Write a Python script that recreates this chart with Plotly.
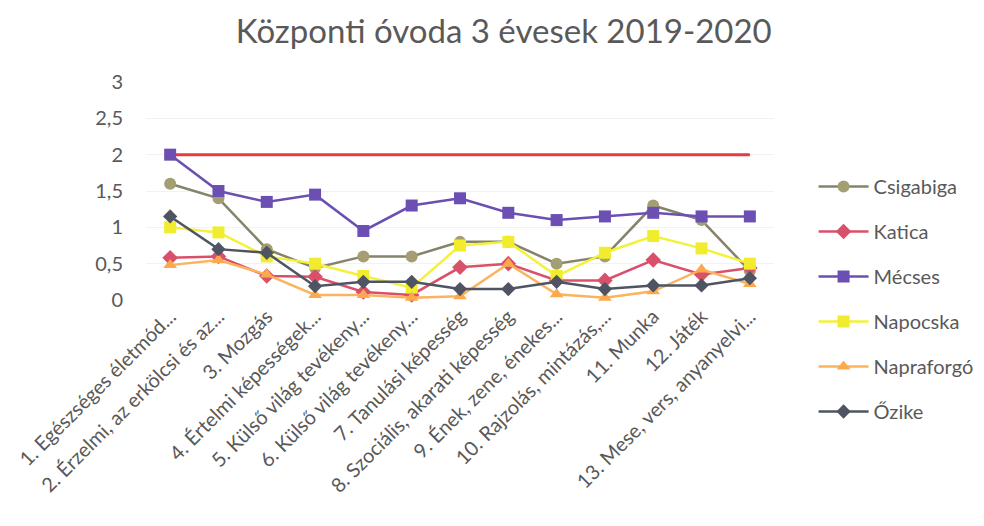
import plotly.graph_objects as go

categories = [
    "1. Egészséges életmód...",
    "2. Érzelmi, az erkölcsi és az...",
    "3. Mozgás",
    "4. Értelmi képességek...",
    "5. Külső világ tevékeny...",
    "6. Külső világ tevékeny...",
    "7. Tanulási képesség",
    "8. Szociális, akarati képesség",
    "9. Ének, zene, énekes...",
    "10. Rajzolás, mintázás,...",
    "11. Munka",
    "12. Játék",
    "13. Mese, vers, anyanyelvi...",
]
cat_ids = list(range(len(categories)))

target = [2, 2, 2, 2, 2, 2, 2, 2, 2, 2, 2, 2, 2]
csigabiga = [1.6, 1.4, 0.7, 0.44, 0.6, 0.6, 0.8, 0.8, 0.5, 0.6, 1.3, 1.1, 0.4]
katica = [0.58, 0.6, 0.33, 0.32, 0.11, 0.07, 0.45, 0.5, 0.27, 0.27, 0.55, 0.35, 0.44]
mecses = [2.0, 1.5, 1.35, 1.45, 0.95, 1.3, 1.4, 1.2, 1.1, 1.15, 1.2, 1.15, 1.15]
napocska = [1.0, 0.93, 0.6, 0.5, 0.33, 0.17, 0.75, 0.8, 0.33, 0.65, 0.88, 0.71, 0.5]
napraforgo = [0.48, 0.55, 0.35, 0.07, 0.07, 0.03, 0.05, 0.5, 0.08, 0.03, 0.12, 0.42, 0.22]
ozike = [1.15, 0.7, 0.65, 0.19, 0.25, 0.25, 0.15, 0.15, 0.25, 0.15, 0.2, 0.2, 0.3]

series = [
    ("Csigabiga", csigabiga, "#85836A", "#A39F72", "circle", 12),
    ("Katica", katica, "#D9506A", "#D9506A", "diamond", 12),
    ("Mécses", mecses, "#6B4FB3", "#6B4FB3", "square", 12),
    ("Napocska", napocska, "#F2F23A", "#F2EC2E", "square", 12),
    ("Napraforgó", napraforgo, "#FBB35E", "#FBA94C", "triangle-up", 12),
    ("Őzike", ozike, "#4E5462", "#4E5462", "diamond", 11),
]

fig = go.Figure()
fig.add_trace(go.Scatter(
    x=cat_ids, y=target, mode="lines", showlegend=False,
    line=dict(color="#E8393F", width=3), hoverinfo="skip",
))
for i, (name, vals, lc, mc, sym, sz) in enumerate(series):
    fig.add_trace(go.Scatter(
        x=cat_ids, y=vals, name=name, mode="lines+markers",
        legendgroup=f"g{i}",
        line=dict(color=lc, width=2.5),
        marker=dict(symbol=sym, size=sz, color=mc),
        cliponaxis=False,
    ))

fig.update_layout(
    width=976, height=518,
    paper_bgcolor="white", plot_bgcolor="white",
    separators=", ",
    font=dict(family="Lato, sans-serif", color="#595959", size=20),
    title=dict(text="Központi óvoda 3 évesek 2019-2020", x=0.508, xref="container",
               xanchor="center", y=0.955, yref="container", yanchor="middle",
               font=dict(size=33, color="#595959")),
    margin=dict(l=138, r=210, t=74, b=226, autoexpand=False),
    legend=dict(x=1.063, y=0.61, xanchor="left", yanchor="top",
                font=dict(size=20, color="#595959"), tracegroupgap=16,
                itemwidth=50, bgcolor="rgba(0,0,0,0)", maxheight=400),
    showlegend=True,
)
fig.update_xaxes(
    tickmode="array", tickvals=cat_ids, ticktext=categories,
    range=[-0.5, 12.5], tickangle=-45, showgrid=False, zeroline=False,
    showline=False, ticks="", tickfont=dict(size=20, color="#595959"),
    ticklabeloverflow="allow",
)
fig.update_yaxes(
    range=[0, 3], dtick=0.5, showgrid=True, gridcolor="#F2F2F2",
    zeroline=False, showline=False, ticks="", ticklabelstandoff=22,
    tickfont=dict(size=20, color="#595959"),
)

fig.write_html("out.html")
